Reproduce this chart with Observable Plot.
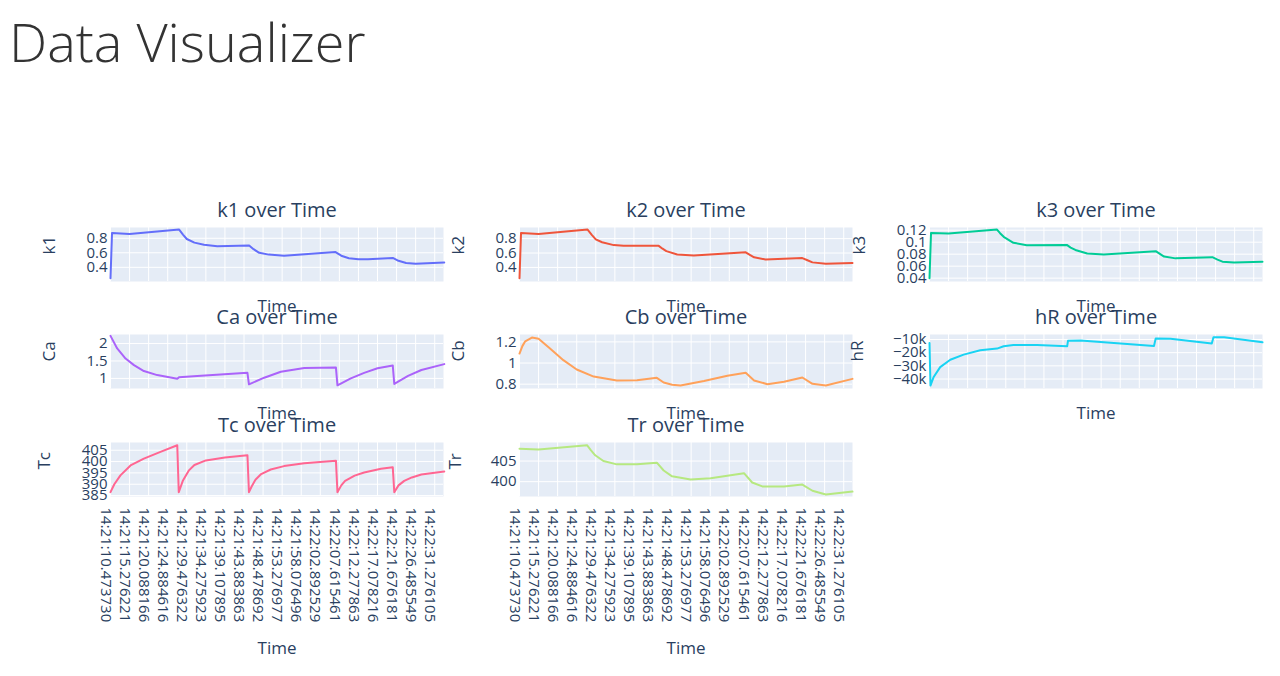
<!DOCTYPE html>
<html>
<head>
<meta charset="utf-8">
<script src="https://cdn.jsdelivr.net/npm/d3@7"></script>
<script src="https://cdn.jsdelivr.net/npm/@observablehq/plot@0.6"></script>
<style>
  body { margin: 0; background: #fff; font-family: "Open Sans", sans-serif; }
  #root { position: relative; width: 1280px; height: 676px; overflow: hidden; }
  .title { position: absolute; left: 9px; top: 14px; font-size: 54px; line-height: 54px; font-weight: 300; color: #333; margin: 0; white-space: nowrap; }
  .panel { position: absolute; }
  .panel svg { overflow: visible; }
</style>
</head>
<body>
<div id="root">
  <h1 class="title">Data Visualizer</h1>
</div>
<script>
// ---- Data ----
// x positions are category (sample) indices; one tick label every 10 samples
const timeLabels = ["14:21:10.473730","14:21:15.276221","14:21:20.088166","14:21:24.884616",
  "14:21:29.476322","14:21:34.275923","14:21:39.107895","14:21:43.883863","14:21:48.478692",
  "14:21:53.276977","14:21:58.076496","14:22:02.892529","14:22:07.615461","14:22:12.277863",
  "14:22:17.078216","14:22:21.676181","14:22:26.485549","14:22:31.276105"];
const tickIdx = [0,10,20,30,40,50,60,70,80,90,100,110,120,130,140,150,160,170];

const k1Idx = [0,0.8,10,36,38,40,44,49,56,72.7,75,78,83,91,118,121,125,130,135,148,151,155,160,175];
const k1Val = [0.25,0.874,0.86,0.92,0.85,0.79,0.74,0.71,0.69,0.70,0.65,0.60,0.575,0.56,0.61,0.56,0.525,0.51,0.51,0.53,0.49,0.46,0.45,0.466];

const k2Idx = [0,0.8,10,35.7,38,40,43.3,49.4,54.6,73,75,77,82.7,91.4,118.6,121,123,129,148.3,151,153.6,160.6,174.6];
const k2Val = [0.25,0.88,0.866,0.927,0.85,0.79,0.75,0.71,0.70,0.70,0.66,0.626,0.58,0.565,0.61,0.57,0.54,0.51,0.53,0.50,0.47,0.45,0.46];

const k3Idx = [0,0.8,10,35.4,37,38.9,44,51,72,74,76.5,82.7,91.4,118.6,121,123,129,148.3,151,153.6,159.7,174.6];
const k3Val = [0.04,0.1155,0.1145,0.121,0.115,0.109,0.099,0.095,0.0955,0.091,0.087,0.081,0.0795,0.085,0.080,0.076,0.073,0.075,0.071,0.0675,0.066,0.0675];

const caIdx = [0,3.5,7.9,12.3,17.5,24.5,35,35.9,45.5,71.8,72.6,80.6,89.3,101.6,118.2,119,126,133,140,148,148.8,156,163,175];
const caVal = [2.22,1.86,1.57,1.38,1.21,1.095,0.99,1.03,1.067,1.16,0.83,1.02,1.19,1.30,1.31,0.80,1.0,1.16,1.29,1.37,0.84,1.07,1.24,1.41];

const cbIdx = [0,1.5,3,6.5,10,16,23,30,38.9,51,61.6,72,75.6,80,84.4,96.7,109,118.6,123,130,138.7,148.3,153.6,160.6,174.6];
const cbVal = [1.09,1.16,1.206,1.241,1.23,1.137,1.027,0.939,0.872,0.835,0.838,0.86,0.816,0.795,0.787,0.83,0.88,0.907,0.835,0.80,0.822,0.863,0.803,0.787,0.85];

const hrIdx = [0,0.5,2.1,5.6,10.9,17.9,26.6,35.4,38.9,44,56.4,72.2,72.6,79.2,117.7,118.6,126.4,148,148.9,154.5,174.6];
const hrVal = [-12600,-45000,-38700,-31000,-25400,-21500,-18200,-16900,-15100,-14100,-14100,-15100,-11000,-10800,-14900,-9200,-9500,-13100,-8200,-8200,-12100];

const tcIdx = [0,2,5.2,10.5,17.5,26.2,35,35.8,38,41,44,50,60,71.8,72.6,74,76,79,84,91,101.6,118.2,119,121,123,128,133,141.8,148,148.8,151,154,158,163,175];
const tcVal = [386.5,390,393.9,398.3,401.3,404.3,407.2,386.5,391.7,396,398.5,400.5,401.8,402.8,386.5,389,392,394.5,396.5,398,399.3,400.4,386.5,389.5,391.5,393.8,395.2,396.8,397.5,386.5,389.5,391.5,393,394.3,395.6];

const trIdx = [0,10,35.4,37.5,39.7,44,51,61.6,72,75.6,80,89.7,100.2,117.7,122,127.3,138.7,148.3,153.6,160.6,174.6];
const trVal = [408.0,407.8,408.85,407.6,406.4,405,404.2,404.2,404.6,402.7,401.3,400.5,400.8,402.05,399.8,398.85,398.85,399.3,397.8,396.9,397.6];

// ---- Panel configuration ----
const colLefts = [110, 519.3, 929.3];
const rowTops = [226.7, 334.3, 442.3];
const W = 333, H = 54, ML = 100, MR = 12, MT = 40;
const xDomain = [0, 174.6];
const textColor = "#2a3f5f";

const plain = d => String(d);
const panels = [
  {name:"k1", row:0, col:0, color:"#636efa", idx:k1Idx, val:k1Val, domain:[0.205,0.948], ticks:[0.4,0.6,0.8], fmt:plain, yl:-61},
  {name:"k2", row:0, col:1, color:"#EF553B", idx:k2Idx, val:k2Val, domain:[0.204,0.955], ticks:[0.4,0.6,0.8], fmt:plain, yl:-61},
  {name:"k3", row:0, col:2, color:"#00cc96", idx:k3Idx, val:k3Val, domain:[0.0344,0.1245], ticks:[0.04,0.06,0.08,0.1,0.12], fmt:plain, yl:-70},
  {name:"Ca", row:1, col:0, color:"#ab63fa", idx:caIdx, val:caVal, domain:[0.71,2.26], ticks:[1,1.5,2], fmt:plain, yl:-61},
  {name:"Cb", row:1, col:1, color:"#FFA15A", idx:cbIdx, val:cbVal, domain:[0.759,1.27], ticks:[0.8,1,1.2], fmt:plain, yl:-61},
  {name:"hR", row:1, col:2, color:"#19d3f3", idx:hrIdx, val:hrVal, domain:[-47200,-6200], ticks:[-40000,-30000,-20000,-10000], fmt:d3.format("~s"), yl:-72},
  {name:"Tc", row:2, col:0, color:"#FF6692", idx:tcIdx, val:tcVal, domain:[384.6,408.4], ticks:[385,390,395,400,405], fmt:plain, yl:-66},
  {name:"Tr", row:2, col:1, color:"#B6E880", idx:trIdx, val:trVal, domain:[396.4,409.5], ticks:[400,405], fmt:plain, yl:-64}
];

const tickLabelOf = new Map(tickIdx.map((t, i) => [t, timeLabels[i]]));
const root = document.getElementById("root");

for (const p of panels) {
  const bottomRow = p.row === 2;
  const MB = bottomRow ? 175 : 45;
  const data = p.idx.map((x, i) => ({x, y: p.val[i]}));
  const marks = [
    Plot.frame({fill: "#E5ECF6"}),
    Plot.gridX(tickIdx, {stroke: "white", strokeOpacity: 1, strokeWidth: 1}),
    Plot.gridY(p.ticks, {stroke: "white", strokeOpacity: 1, strokeWidth: 1}),
    Plot.line(data, {x: "x", y: "y", stroke: p.color, strokeWidth: 2}),
    Plot.axisY(p.ticks, {tickSize: 0, tickPadding: 3, tickFormat: p.fmt, label: null, fontSize: 15, fill: textColor}),
    Plot.text([p.name + " over Time"], {text: d => d, frameAnchor: "top", lineAnchor: "middle", dy: -17, fontSize: 20, fill: textColor}),
    Plot.text([p.name], {text: d => d, frameAnchor: "left", dx: p.yl, rotate: -90, fontSize: 17, fill: textColor}),
    Plot.text(["Time"], {text: d => d, frameAnchor: "bottom", lineAnchor: "middle", dy: bottomRow ? 152 : 25, fontSize: 17, fill: textColor})
  ];
  if (bottomRow) {
    marks.push(Plot.axisX(tickIdx, {tickSize: 0, tickPadding: 11, tickRotate: 90, dx: -5, tickFormat: d => tickLabelOf.get(d), label: null, fontSize: 15, fill: textColor}));
  }
  const chart = Plot.plot({
    width: W + ML + MR,
    height: H + MT + MB,
    marginLeft: ML, marginRight: MR, marginTop: MT, marginBottom: MB,
    style: {fontFamily: "Open Sans", fontSize: "15px", color: textColor, background: "transparent", overflow: "visible"},
    x: bottomRow ? {domain: xDomain} : {domain: xDomain, axis: null},
    y: {domain: p.domain},
    marks
  });
  const div = document.createElement("div");
  div.className = "panel";
  div.style.left = (colLefts[p.col] - ML) + "px";
  div.style.top = (rowTops[p.row] - MT) + "px";
  div.appendChild(chart);
  root.appendChild(div);
}
</script>
</body>
</html>
